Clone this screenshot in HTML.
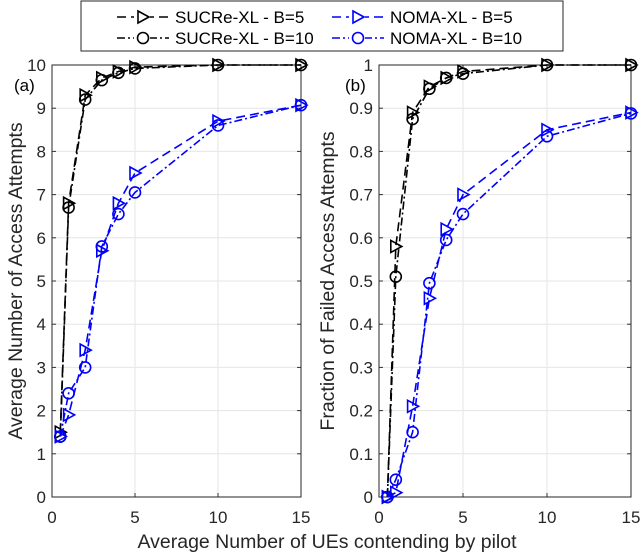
<!DOCTYPE html>
<html><head><meta charset="utf-8"><style>
body{margin:0;background:#fff}
svg{display:block;font-family:"Liberation Sans",sans-serif}
</style></head><body>
<svg id="c" width="640" height="553"></svg>
<script>
const xs=[0.5,1,2,3,4,5,10,15];
const xTicks=[0,5,10,15];
const aTicks=[0,1,2,3,4,5,6,7,8,9,10];
const bTicks=[0,0.1,0.2,0.3,0.4,0.5,0.6,0.7,0.8,0.9,1];
const bTickLabels=["0","0.1","0.2","0.3","0.4","0.5","0.6","0.7","0.8","0.9","1"];
const aSucre5=[1.5,6.8,9.3,9.7,9.85,9.95,10,10];
const aSucre10=[1.4,6.7,9.2,9.65,9.82,9.92,10,10];
const aNoma5=[1.4,1.9,3.4,5.7,6.8,7.5,8.7,9.07];
const aNoma10=[1.4,2.4,3.0,5.8,6.55,7.05,8.6,9.07];
const bSucre5=[0,0.58,0.89,0.95,0.97,0.985,1,1];
const bSucre10=[0,0.51,0.875,0.945,0.97,0.98,1,1];
const bNoma5=[0,0.01,0.21,0.46,0.62,0.70,0.85,0.89];
const bNoma10=[0,0.04,0.15,0.495,0.595,0.655,0.835,0.888];
const seriesNames=["SUCRe-XL - B=5","SUCRe-XL - B=10","NOMA-XL - B=5","NOMA-XL - B=10"];

const NS="http://www.w3.org/2000/svg",svg=document.getElementById('c');
function el(t,a,p){const e=document.createElementNS(NS,t);for(const k in a)e.setAttribute(k,a[k]);(p||svg).appendChild(e);return e;}
const styles=[{c:'#000',d:'9,5',m:'tri'},{c:'#000',d:'8,3,2,3',m:'circ'},{c:'#0000ff',d:'9,5',m:'tri'},{c:'#0000ff',d:'8,3,2,3',m:'circ'}];
function marker(m,x,y,c,g){
  if(m==='tri') return el('polygon',{points:`${x-5},${y-6} ${x+6},${y} ${x-5},${y+6}`,fill:'none',stroke:c,'stroke-width':1.6},g);
  return el('circle',{cx:x,cy:y,r:5.5,fill:'none',stroke:c,'stroke-width':1.6},g);
}
function panel(name,x0,x1,yTop,yBot,ymax,ticks,tickLabels,series,title,tag){
  const g=el('g',{});
  
  
  const X=v=>x0+(x1-x0)*v/15, Y=v=>yBot-(yBot-yTop)*v/ymax;
  el('rect',{x:x0,y:yTop,width:x1-x0,height:yBot-yTop,fill:'#fff'},g);
  ticks.forEach((t,i)=>{const y=Y(t);
    el('line',{x1:x0,x2:x1,y1:y,y2:y,stroke:'#e6e6e6','stroke-width':1},g);
    el('line',{x1:x0,x2:x0+4,y1:y,y2:y,stroke:'#333'},g);el('line',{x1:x1,x2:x1-4,y1:y,y2:y,stroke:'#333'},g);
    const tx=el('text',{x:x0-6,y:y+6,'text-anchor':'end','font-size':17,fill:'#262626'},g);tx.textContent=tickLabels[i];
    
    });
  xTicks.forEach(t=>{const x=X(t);
    el('line',{x1:x,x2:x,y1:yTop,y2:yBot,stroke:'#e6e6e6'},g);
    el('line',{x1:x,x2:x,y1:yBot,y2:yBot-4,stroke:'#333'},g);el('line',{x1:x,x2:x,y1:yTop,y2:yTop+4,stroke:'#333'},g);
    const tx=el('text',{x:x,y:yBot+26,'text-anchor':'middle','font-size':17,fill:'#262626'},g);tx.textContent=t;
    
    });
  el('rect',{x:x0,y:yTop,width:x1-x0,height:yBot-yTop,fill:'none',stroke:'#262626','stroke-width':1},g);
  series.forEach((s,i)=>{const st=styles[i];
    const sg=el('g',{},g);
    
    
    el('polyline',{points:s.map((v,j)=>X(xs[j])+','+Y(v)).join(' '),fill:'none',stroke:st.c,'stroke-width':1.6,'stroke-dasharray':st.d},sg);
    s.forEach((v,j)=>{const m=marker(st.m,X(xs[j]),Y(v),st.c,sg);
      
      });
  });
  const yt=el('text',{x:0,y:0,transform:`translate(${title.x},${(yTop+yBot)/2}) rotate(-90)`,'text-anchor':'middle','font-size':19.5,fill:'#262626'},g);
  yt.textContent=title.t;
  
  
  const tg=el('text',{x:tag.x,y:yTop+26,'font-size':17,fill:'#000'},g);tg.textContent=tag.t;
  
  
}
panel('panel-a',52,301,65,497,10,aTicks,aTicks.map(String),[aSucre5,aSucre10,aNoma5,aNoma10],{x:22,t:'Average Number of Access Attempts'},{x:14,t:'(a)'});
panel('panel-b',379,631,65,497,1,bTicks,bTickLabels,[bSucre5,bSucre10,bNoma5,bNoma10],{x:334,t:'Fraction of Failed Access Attempts'},{x:345,t:'(b)'});
const xt=el('text',{x:327,y:548,'text-anchor':'middle','font-size':19.5,fill:'#262626'});
xt.textContent='Average Number of UEs contending by pilot';


// legend
const lg=el('g',{});


el('rect',{x:81,y:1,width:482,height:50,fill:'#fff',stroke:'#262626','stroke-width':1},lg);
const pos=[[117,17],[117,38],[332,17],[332,38]];
seriesNames.forEach((n,i)=>{const st=styles[i],[lx,ly]=pos[i];
  const e=el('g',{},lg);
  
  
  el('line',{x1:lx,x2:lx+52,y1:ly,y2:ly,stroke:st.c,'stroke-width':1.6,'stroke-dasharray':st.d},e);
  el('rect',{x:lx+17,y:ly-8,width:16,height:16,fill:'#fff'},e);
  marker(st.m,lx+26,ly,st.c,e);
  const t=el('text',{x:lx+58,y:ly+6,'font-size':17,fill:'#000'},e);t.textContent=n;});
</script>
</body></html>
